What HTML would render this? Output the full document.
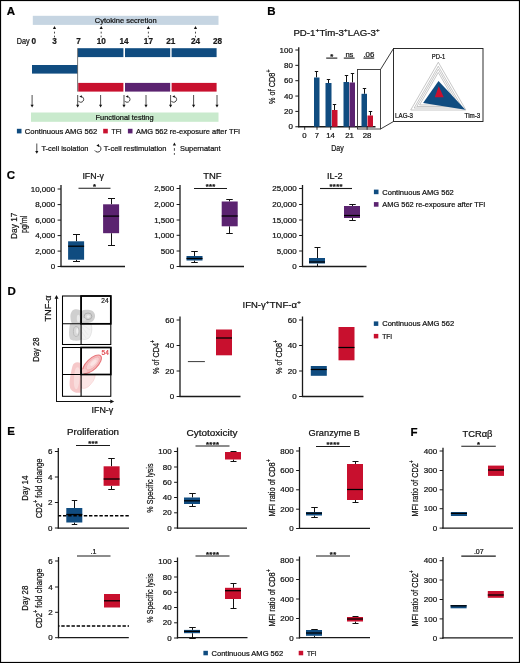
<!DOCTYPE html>
<html><head><meta charset="utf-8"><style>
html,body{margin:0;padding:0;background:#fff;}
body{width:520px;height:663px;overflow:hidden;font-family:"Liberation Sans", sans-serif;}
svg{display:block;will-change:transform;}
text{stroke-width:0.22px;}
</style></head><body>
<svg width="520" height="663" viewBox="0 0 520 663" font-family='"Liberation Sans", sans-serif'>
<rect x="0" y="0" width="520" height="663" fill="#fff" />
<text x="6.8" y="15" font-size="11.5" text-anchor="start" fill="#000" stroke="#000" font-weight="bold" >A</text>
<rect x="32.8" y="15.8" width="185.7" height="9.1" fill="#c6d5e2" />
<text x="94.8" y="22.8" font-size="7.7" text-anchor="start" fill="#111" stroke="#111" textLength="61.9" lengthAdjust="spacingAndGlyphs" >Cytokine secretion</text>
<path d="M52.9,29.0 L54.5,26.1 L56.1,29.0 Z" fill="#111"/>
<line x1="54.5" y1="31.7" x2="54.5" y2="33.5" stroke="#333" stroke-width="0.9" />
<line x1="54.5" y1="35.7" x2="54.5" y2="37.3" stroke="#333" stroke-width="0.9" />
<path d="M99.60000000000001,29.0 L101.2,26.1 L102.8,29.0 Z" fill="#111"/>
<line x1="101.2" y1="31.7" x2="101.2" y2="33.5" stroke="#333" stroke-width="0.9" />
<line x1="101.2" y1="35.7" x2="101.2" y2="37.3" stroke="#333" stroke-width="0.9" />
<path d="M146.8,29.0 L148.4,26.1 L150.0,29.0 Z" fill="#111"/>
<line x1="148.4" y1="31.7" x2="148.4" y2="33.5" stroke="#333" stroke-width="0.9" />
<line x1="148.4" y1="35.7" x2="148.4" y2="37.3" stroke="#333" stroke-width="0.9" />
<path d="M193.9,29.0 L195.5,26.1 L197.1,29.0 Z" fill="#111"/>
<line x1="195.5" y1="31.7" x2="195.5" y2="33.5" stroke="#333" stroke-width="0.9" />
<line x1="195.5" y1="35.7" x2="195.5" y2="37.3" stroke="#333" stroke-width="0.9" />
<text x="16.8" y="44.3" font-size="8.4" text-anchor="start" fill="#111" stroke="#111" textLength="12.9" lengthAdjust="spacingAndGlyphs" >Day</text>
<text x="33.8" y="44.3" font-size="8.2" text-anchor="middle" fill="#1a1a1a" stroke="#1a1a1a" font-weight="bold" >0</text>
<text x="54.5" y="44.3" font-size="8.2" text-anchor="middle" fill="#1a1a1a" stroke="#1a1a1a" font-weight="bold" >3</text>
<text x="78.5" y="44.3" font-size="8.2" text-anchor="middle" fill="#1a1a1a" stroke="#1a1a1a" font-weight="bold" >7</text>
<text x="101.2" y="44.3" font-size="8.2" text-anchor="middle" fill="#1a1a1a" stroke="#1a1a1a" font-weight="bold" >10</text>
<text x="124" y="44.3" font-size="8.2" text-anchor="middle" fill="#1a1a1a" stroke="#1a1a1a" font-weight="bold" >14</text>
<text x="148.4" y="44.3" font-size="8.2" text-anchor="middle" fill="#1a1a1a" stroke="#1a1a1a" font-weight="bold" >17</text>
<text x="170.8" y="44.3" font-size="8.2" text-anchor="middle" fill="#1a1a1a" stroke="#1a1a1a" font-weight="bold" >21</text>
<text x="195.5" y="44.3" font-size="8.2" text-anchor="middle" fill="#1a1a1a" stroke="#1a1a1a" font-weight="bold" >24</text>
<text x="217.6" y="44.3" font-size="8.2" text-anchor="middle" fill="#1a1a1a" stroke="#1a1a1a" font-weight="bold" >28</text>
<rect x="77.9" y="48.2" width="45.5" height="8.9" fill="#104c80" />
<rect x="125.0" y="48.2" width="45.19999999999999" height="8.9" fill="#104c80" />
<rect x="171.6" y="48.2" width="45.0" height="8.9" fill="#104c80" />
<rect x="32.0" y="65.0" width="45.6" height="8.6" fill="#104c80" />
<rect x="78.2" y="82.9" width="45.2" height="8.7" fill="#c8102e" />
<rect x="125.0" y="82.9" width="45.2" height="8.7" fill="#5b2370" />
<rect x="171.6" y="82.9" width="45.0" height="8.7" fill="#c8102e" />
<line x1="77.6" y1="48.2" x2="77.6" y2="91.6" stroke="#555" stroke-width="0.8" />
<line x1="32.1" y1="95.0" x2="32.1" y2="105.2" stroke="#222" stroke-width="0.8" />
<path d="M30.5,104.80000000000001 L32.1,107.4 L33.7,104.80000000000001 Z" fill="#111"/>
<line x1="77.7" y1="95.0" x2="77.7" y2="105.2" stroke="#222" stroke-width="0.8" />
<path d="M76.10000000000001,104.80000000000001 L77.7,107.4 L79.3,104.80000000000001 Z" fill="#111"/>
<line x1="100.6" y1="95.0" x2="100.6" y2="105.2" stroke="#222" stroke-width="0.8" />
<path d="M99.0,104.80000000000001 L100.6,107.4 L102.19999999999999,104.80000000000001 Z" fill="#111"/>
<line x1="124.0" y1="95.0" x2="124.0" y2="105.2" stroke="#222" stroke-width="0.8" />
<path d="M122.4,104.80000000000001 L124.0,107.4 L125.6,104.80000000000001 Z" fill="#111"/>
<line x1="146.0" y1="95.0" x2="146.0" y2="105.2" stroke="#222" stroke-width="0.8" />
<path d="M144.4,104.80000000000001 L146.0,107.4 L147.6,104.80000000000001 Z" fill="#111"/>
<line x1="170.6" y1="95.0" x2="170.6" y2="105.2" stroke="#222" stroke-width="0.8" />
<path d="M169.0,104.80000000000001 L170.6,107.4 L172.2,104.80000000000001 Z" fill="#111"/>
<line x1="193.6" y1="95.0" x2="193.6" y2="105.2" stroke="#222" stroke-width="0.8" />
<path d="M192.0,104.80000000000001 L193.6,107.4 L195.2,104.80000000000001 Z" fill="#111"/>
<line x1="217.0" y1="95.0" x2="217.0" y2="105.2" stroke="#222" stroke-width="0.8" />
<path d="M215.4,104.80000000000001 L217.0,107.4 L218.6,104.80000000000001 Z" fill="#111"/>
<path d="M78.29,100.85 A2.9,2.9 0 1 0 81.20,96.50" fill="none" stroke="#222" stroke-width="0.85"/>
<path d="M79.40,96.50 L81.80,95.20 L81.80,97.80 Z" fill="#111"/>
<path d="M124.59,100.85 A2.9,2.9 0 1 0 127.50,96.50" fill="none" stroke="#222" stroke-width="0.85"/>
<path d="M125.70,96.50 L128.10,95.20 L128.10,97.80 Z" fill="#111"/>
<path d="M171.19,100.85 A2.9,2.9 0 1 0 174.10,96.50" fill="none" stroke="#222" stroke-width="0.85"/>
<path d="M172.30,96.50 L174.70,95.20 L174.70,97.80 Z" fill="#111"/>
<rect x="31.0" y="112.5" width="187.5" height="9.3" fill="#c9eacd" />
<text x="95.5" y="119.7" font-size="7.6" text-anchor="start" fill="#111" stroke="#111" textLength="58.1" lengthAdjust="spacingAndGlyphs" >Functional testing</text>
<rect x="16.9" y="128.8" width="4.6" height="4.6" fill="#104c80" />
<text x="24.8" y="133.8" font-size="7.7" text-anchor="start" fill="#111" stroke="#111" textLength="72.4" lengthAdjust="spacingAndGlyphs" >Continuous AMG 562</text>
<rect x="103.2" y="128.8" width="4.6" height="4.6" fill="#c8102e" />
<text x="111.5" y="133.8" font-size="7.7" text-anchor="start" fill="#111" stroke="#111" textLength="10.2" lengthAdjust="spacingAndGlyphs" >TFI</text>
<rect x="127.9" y="128.8" width="4.6" height="4.6" fill="#5b2370" />
<text x="136.0" y="133.8" font-size="7.7" text-anchor="start" fill="#111" stroke="#111" textLength="104.2" lengthAdjust="spacingAndGlyphs" >AMG 562 re-exposure after TFI</text>
<line x1="36.8" y1="143.5" x2="36.8" y2="151.5" stroke="#222" stroke-width="0.8" />
<path d="M35.199999999999996,151.1 L36.8,153.7 L38.4,151.1 Z" fill="#111"/>
<text x="41.4" y="150.9" font-size="7.7" text-anchor="start" fill="#111" stroke="#111" textLength="47.1" lengthAdjust="spacingAndGlyphs" >T-cell isolation</text>
<path d="M94.8,150.4 A3.3,3.3 0 1 0 98.0,145.5" fill="none" stroke="#222" stroke-width="0.9"/>
<path d="M96.4,145.5 L99.0,144.1 L99.0,146.9 Z" fill="#111"/>
<text x="103.7" y="150.9" font-size="7.7" text-anchor="start" fill="#111" stroke="#111" textLength="62.8" lengthAdjust="spacingAndGlyphs" >T-cell restimulation</text>
<path d="M172.8,145.5 L174.4,142.6 L176.0,145.5 Z" fill="#111"/>
<line x1="174.4" y1="148.1" x2="174.4" y2="150.8" stroke="#333" stroke-width="0.9" />
<line x1="174.4" y1="153.1" x2="174.4" y2="154.8" stroke="#333" stroke-width="0.9" />
<text x="180.0" y="150.9" font-size="7.7" text-anchor="start" fill="#111" stroke="#111" textLength="40.5" lengthAdjust="spacingAndGlyphs" >Supernatant</text>
<text x="267.3" y="15" font-size="11.5" text-anchor="start" fill="#000" stroke="#000" font-weight="bold" >B</text>
<text x="293.4" y="35.9" font-size="8.4" fill="#111" stroke="#111" text-anchor="start"><tspan textLength="22.02" lengthAdjust="spacingAndGlyphs">PD-1</tspan><tspan font-size="6.05" dy="-3.53" textLength="4.06" lengthAdjust="spacingAndGlyphs">+</tspan><tspan dy="3.53" textLength="24.34" lengthAdjust="spacingAndGlyphs">Tim-3</tspan><tspan font-size="6.05" dy="-3.53" textLength="4.06" lengthAdjust="spacingAndGlyphs">+</tspan><tspan dy="3.53" textLength="27.94" lengthAdjust="spacingAndGlyphs">LAG-3</tspan><tspan font-size="6.05" dy="-3.53" textLength="4.06" lengthAdjust="spacingAndGlyphs">+</tspan></text>
<line x1="298.75" y1="47.2" x2="298.75" y2="127.25" stroke="#1a1a1a" stroke-width="1.3" />
<line x1="295.35" y1="50.0" x2="298.75" y2="50.0" stroke="#1a1a1a" stroke-width="1.0" />
<text x="292.95" y="52.6" font-size="7.7" text-anchor="end" fill="#111" stroke="#111" textLength="13.36" lengthAdjust="spacingAndGlyphs" >100</text>
<line x1="295.35" y1="65.35" x2="298.75" y2="65.35" stroke="#1a1a1a" stroke-width="1.0" />
<text x="292.95" y="67.94999999999999" font-size="7.7" text-anchor="end" fill="#111" stroke="#111" textLength="8.9" lengthAdjust="spacingAndGlyphs" >80</text>
<line x1="295.35" y1="80.7" x2="298.75" y2="80.7" stroke="#1a1a1a" stroke-width="1.0" />
<text x="292.95" y="83.3" font-size="7.7" text-anchor="end" fill="#111" stroke="#111" textLength="8.9" lengthAdjust="spacingAndGlyphs" >60</text>
<line x1="295.35" y1="96.05" x2="298.75" y2="96.05" stroke="#1a1a1a" stroke-width="1.0" />
<text x="292.95" y="98.64999999999999" font-size="7.7" text-anchor="end" fill="#111" stroke="#111" textLength="8.9" lengthAdjust="spacingAndGlyphs" >40</text>
<line x1="295.35" y1="111.4" x2="298.75" y2="111.4" stroke="#1a1a1a" stroke-width="1.0" />
<text x="292.95" y="114.0" font-size="7.7" text-anchor="end" fill="#111" stroke="#111" textLength="8.9" lengthAdjust="spacingAndGlyphs" >20</text>
<line x1="295.35" y1="126.75" x2="298.75" y2="126.75" stroke="#1a1a1a" stroke-width="1.0" />
<text x="292.95" y="129.35" font-size="7.7" text-anchor="end" fill="#111" stroke="#111" textLength="4.45" lengthAdjust="spacingAndGlyphs" >0</text>
<line x1="298.15" y1="126.75" x2="375.5" y2="126.75" stroke="#1a1a1a" stroke-width="1.3" />
<line x1="316.5" y1="71.5" x2="316.5" y2="77.5" stroke="#111" stroke-width="1.0" />
<line x1="314.8" y1="71.5" x2="318.2" y2="71.5" stroke="#111" stroke-width="1.0" />
<rect x="314.0" y="77.5" width="5.5" height="49.25" fill="#104c80" />
<line x1="328.5" y1="79.5" x2="328.5" y2="83.0" stroke="#111" stroke-width="1.0" />
<line x1="326.8" y1="79.5" x2="330.2" y2="79.5" stroke="#111" stroke-width="1.0" />
<rect x="325.5" y="83.0" width="6.0" height="43.75" fill="#104c80" />
<line x1="334.5" y1="104.5" x2="334.5" y2="110.0" stroke="#111" stroke-width="1.0" />
<line x1="332.8" y1="104.5" x2="336.2" y2="104.5" stroke="#111" stroke-width="1.0" />
<rect x="332.0" y="110.0" width="5.5" height="16.75" fill="#c8102e" />
<line x1="346.5" y1="75.5" x2="346.5" y2="82.0" stroke="#111" stroke-width="1.0" />
<line x1="344.8" y1="75.5" x2="348.2" y2="75.5" stroke="#111" stroke-width="1.0" />
<rect x="343.5" y="82.0" width="5.5" height="44.75" fill="#104c80" />
<line x1="352.5" y1="73.5" x2="352.5" y2="82.5" stroke="#111" stroke-width="1.0" />
<line x1="350.8" y1="73.5" x2="354.2" y2="73.5" stroke="#111" stroke-width="1.0" />
<rect x="349.5" y="82.5" width="5.5" height="44.25" fill="#5b2370" />
<line x1="364.5" y1="88.5" x2="364.5" y2="93.8" stroke="#111" stroke-width="1.0" />
<line x1="362.8" y1="88.5" x2="366.2" y2="88.5" stroke="#111" stroke-width="1.0" />
<rect x="361.5" y="93.8" width="5.5" height="32.95" fill="#104c80" />
<line x1="370.5" y1="111.5" x2="370.5" y2="115.5" stroke="#111" stroke-width="1.0" />
<line x1="368.8" y1="111.5" x2="372.2" y2="111.5" stroke="#111" stroke-width="1.0" />
<rect x="367.5" y="115.5" width="5.5" height="11.25" fill="#c8102e" />
<text x="304.5" y="138.3" font-size="7.8" text-anchor="middle" fill="#111" stroke="#111" >0</text>
<text x="317" y="138.3" font-size="7.8" text-anchor="middle" fill="#111" stroke="#111" >7</text>
<text x="330.5" y="138.3" font-size="7.8" text-anchor="middle" fill="#111" stroke="#111" >14</text>
<text x="349.5" y="138.3" font-size="7.8" text-anchor="middle" fill="#111" stroke="#111" >21</text>
<text x="367" y="138.3" font-size="7.8" text-anchor="middle" fill="#111" stroke="#111" >28</text>
<text x="337.4" y="150.6" font-size="9.2" text-anchor="middle" fill="#111" stroke="#111" textLength="12.5" lengthAdjust="spacingAndGlyphs" >Day</text>
<line x1="304.7" y1="126.75" x2="304.7" y2="129.8" stroke="#1a1a1a" stroke-width="0.9" />
<line x1="317.0" y1="126.75" x2="317.0" y2="129.8" stroke="#1a1a1a" stroke-width="0.9" />
<line x1="330.7" y1="126.75" x2="330.7" y2="129.8" stroke="#1a1a1a" stroke-width="0.9" />
<line x1="349.3" y1="126.75" x2="349.3" y2="129.8" stroke="#1a1a1a" stroke-width="0.9" />
<line x1="367.1" y1="126.75" x2="367.1" y2="129.8" stroke="#1a1a1a" stroke-width="0.9" />
<line x1="326.2" y1="58.1" x2="337.3" y2="58.1" stroke="#1a1a1a" stroke-width="1.1" />
<text x="331.70" y="59.40" font-size="7.6" text-anchor="middle" fill="#111" stroke="#111" font-weight="bold">*</text>
<line x1="343.8" y1="58.1" x2="354.6" y2="58.1" stroke="#1a1a1a" stroke-width="1.1" />
<text x="349.4" y="56.5" font-size="7.6" text-anchor="middle" fill="#111" stroke="#111" >ns</text>
<line x1="363.5" y1="58.1" x2="374.2" y2="58.1" stroke="#1a1a1a" stroke-width="1.1" />
<text x="368.9" y="56.5" font-size="7.9" text-anchor="middle" fill="#111" stroke="#111" >.06</text>
<rect x="357.5" y="69.5" width="23" height="59.5" fill="none" stroke="#333" stroke-width="0.9"/>
<line x1="380.5" y1="69.5" x2="393.5" y2="48.5" stroke="#222" stroke-width="0.9" />
<line x1="380.5" y1="129.0" x2="393.5" y2="121.5" stroke="#222" stroke-width="0.9" />
<rect x="393.5" y="48.5" width="89.5" height="73" fill="#fff" stroke="#222" stroke-width="0.95"/>
<polygon points="438.30,62.25 410.72,110.02 465.88,110.02" fill="none" stroke="#a8a8a8" stroke-width="0.65"/>
<polygon points="438.30,66.23 414.16,108.03 462.44,108.03" fill="none" stroke="#a8a8a8" stroke-width="0.65"/>
<polygon points="438.30,69.26 416.79,106.52 459.81,106.52" fill="none" stroke="#a8a8a8" stroke-width="0.65"/>
<polygon points="438.30,72.44 419.54,104.93 457.06,104.93" fill="none" stroke="#a8a8a8" stroke-width="0.65"/>
<polygon points="438.5,81 423.1,103.1 465.4,109.75" fill="#104c80"/>
<polygon points="438.75,86.25 434.75,97.25 443.75,97.25" fill="#c8102e"/>
<text x="438.5" y="58.8" font-size="6.9" text-anchor="middle" fill="#111" stroke="#111" textLength="13.4" lengthAdjust="spacingAndGlyphs" >PD-1</text>
<text x="395.1" y="118.1" font-size="6.9" text-anchor="start" fill="#111" stroke="#111" textLength="17.9" lengthAdjust="spacingAndGlyphs" >LAG-3</text>
<text x="480.3" y="118.1" font-size="6.9" text-anchor="end" fill="#111" stroke="#111" textLength="15.7" lengthAdjust="spacingAndGlyphs" >Tim-3</text>
<text x="6.8" y="179" font-size="11.5" text-anchor="start" fill="#000" stroke="#000" font-weight="bold" >C</text>
<text x="93.2" y="178.6" font-size="9.2" text-anchor="middle" fill="#111" stroke="#111" textLength="21.6" lengthAdjust="spacingAndGlyphs" >IFN-γ</text>
<line x1="61.0" y1="185" x2="61.0" y2="267.0" stroke="#1a1a1a" stroke-width="1.3" />
<line x1="57.6" y1="189" x2="61.0" y2="189" stroke="#1a1a1a" stroke-width="1.0" />
<text x="55.2" y="191.6" font-size="7.7" text-anchor="end" fill="#111" stroke="#111" textLength="24.49" lengthAdjust="spacingAndGlyphs" >10,000</text>
<line x1="57.6" y1="204.6" x2="61.0" y2="204.6" stroke="#1a1a1a" stroke-width="1.0" />
<text x="55.2" y="207.2" font-size="7.7" text-anchor="end" fill="#111" stroke="#111" textLength="20.04" lengthAdjust="spacingAndGlyphs" >8,000</text>
<line x1="57.6" y1="220.1" x2="61.0" y2="220.1" stroke="#1a1a1a" stroke-width="1.0" />
<text x="55.2" y="222.7" font-size="7.7" text-anchor="end" fill="#111" stroke="#111" textLength="20.04" lengthAdjust="spacingAndGlyphs" >6,000</text>
<line x1="57.6" y1="235.6" x2="61.0" y2="235.6" stroke="#1a1a1a" stroke-width="1.0" />
<text x="55.2" y="238.2" font-size="7.7" text-anchor="end" fill="#111" stroke="#111" textLength="20.04" lengthAdjust="spacingAndGlyphs" >4,000</text>
<line x1="57.6" y1="251.1" x2="61.0" y2="251.1" stroke="#1a1a1a" stroke-width="1.0" />
<text x="55.2" y="253.7" font-size="7.7" text-anchor="end" fill="#111" stroke="#111" textLength="20.04" lengthAdjust="spacingAndGlyphs" >2,000</text>
<line x1="57.6" y1="266.5" x2="61.0" y2="266.5" stroke="#1a1a1a" stroke-width="1.0" />
<text x="55.2" y="269.1" font-size="7.7" text-anchor="end" fill="#111" stroke="#111" textLength="4.45" lengthAdjust="spacingAndGlyphs" >0</text>
<line x1="60.4" y1="266.5" x2="125" y2="266.5" stroke="#1a1a1a" stroke-width="1.3" />
<line x1="78.5" y1="188.3" x2="110.5" y2="188.3" stroke="#1a1a1a" stroke-width="1.1" />
<text x="94.50" y="189.30" font-size="7.6" text-anchor="middle" fill="#111" stroke="#111" font-weight="bold">*</text>
<line x1="76.5" y1="234.5" x2="76.5" y2="241.3" stroke="#111" stroke-width="1.0" />
<line x1="73.0" y1="234.5" x2="80.0" y2="234.5" stroke="#111" stroke-width="1.0" />
<line x1="76.5" y1="259.7" x2="76.5" y2="261.5" stroke="#111" stroke-width="1.0" />
<line x1="73.0" y1="261.5" x2="80.0" y2="261.5" stroke="#111" stroke-width="1.0" />
<rect x="68.1" y="241.3" width="16.0" height="18.399999999999977" fill="#104c80" />
<line x1="68.1" y1="246.2" x2="84.1" y2="246.2" stroke="#000" stroke-width="1.25" />
<line x1="111.5" y1="198.5" x2="111.5" y2="204.3" stroke="#111" stroke-width="1.0" />
<line x1="108.0" y1="198.5" x2="115.0" y2="198.5" stroke="#111" stroke-width="1.0" />
<line x1="111.5" y1="233.2" x2="111.5" y2="245.5" stroke="#111" stroke-width="1.0" />
<line x1="108.0" y1="245.5" x2="115.0" y2="245.5" stroke="#111" stroke-width="1.0" />
<rect x="103.1" y="204.3" width="16.0" height="28.899999999999977" fill="#5b2370" />
<line x1="103.1" y1="216.1" x2="119.1" y2="216.1" stroke="#000" stroke-width="1.25" />
<text x="212.3" y="178.6" font-size="9.2" text-anchor="middle" fill="#111" stroke="#111" textLength="18.3" lengthAdjust="spacingAndGlyphs" >TNF</text>
<line x1="180" y1="185" x2="180" y2="267.0" stroke="#1a1a1a" stroke-width="1.3" />
<line x1="176.6" y1="188.5" x2="180" y2="188.5" stroke="#1a1a1a" stroke-width="1.0" />
<text x="174.2" y="191.1" font-size="7.7" text-anchor="end" fill="#111" stroke="#111" textLength="20.04" lengthAdjust="spacingAndGlyphs" >2,500</text>
<line x1="176.6" y1="204.5" x2="180" y2="204.5" stroke="#1a1a1a" stroke-width="1.0" />
<text x="174.2" y="207.1" font-size="7.7" text-anchor="end" fill="#111" stroke="#111" textLength="20.04" lengthAdjust="spacingAndGlyphs" >2,000</text>
<line x1="176.6" y1="220" x2="180" y2="220" stroke="#1a1a1a" stroke-width="1.0" />
<text x="174.2" y="222.6" font-size="7.7" text-anchor="end" fill="#111" stroke="#111" textLength="20.04" lengthAdjust="spacingAndGlyphs" >1,500</text>
<line x1="176.6" y1="235.3" x2="180" y2="235.3" stroke="#1a1a1a" stroke-width="1.0" />
<text x="174.2" y="237.9" font-size="7.7" text-anchor="end" fill="#111" stroke="#111" textLength="20.04" lengthAdjust="spacingAndGlyphs" >1,000</text>
<line x1="176.6" y1="251" x2="180" y2="251" stroke="#1a1a1a" stroke-width="1.0" />
<text x="174.2" y="253.6" font-size="7.7" text-anchor="end" fill="#111" stroke="#111" textLength="13.36" lengthAdjust="spacingAndGlyphs" >500</text>
<line x1="176.6" y1="266.5" x2="180" y2="266.5" stroke="#1a1a1a" stroke-width="1.0" />
<text x="174.2" y="269.1" font-size="7.7" text-anchor="end" fill="#111" stroke="#111" textLength="4.45" lengthAdjust="spacingAndGlyphs" >0</text>
<line x1="179.4" y1="266.5" x2="244" y2="266.5" stroke="#1a1a1a" stroke-width="1.3" />
<line x1="194" y1="188.5" x2="227" y2="188.5" stroke="#1a1a1a" stroke-width="1.1" />
<text x="207.20" y="189.30" font-size="7.6" text-anchor="middle" fill="#111" stroke="#111" font-weight="bold">*</text>
<text x="210.50" y="189.30" font-size="7.6" text-anchor="middle" fill="#111" stroke="#111" font-weight="bold">*</text>
<text x="213.80" y="189.30" font-size="7.6" text-anchor="middle" fill="#111" stroke="#111" font-weight="bold">*</text>
<line x1="194.5" y1="251.5" x2="194.5" y2="256" stroke="#111" stroke-width="1.0" />
<line x1="191.25" y1="251.5" x2="197.75" y2="251.5" stroke="#111" stroke-width="1.0" />
<line x1="194.5" y1="260.5" x2="194.5" y2="262.5" stroke="#111" stroke-width="1.0" />
<line x1="191.25" y1="262.5" x2="197.75" y2="262.5" stroke="#111" stroke-width="1.0" />
<rect x="186.5" y="256" width="16.0" height="4.5" fill="#104c80" />
<line x1="186.5" y1="258.5" x2="202.5" y2="258.5" stroke="#000" stroke-width="1.25" />
<line x1="229.5" y1="199.5" x2="229.5" y2="201.5" stroke="#111" stroke-width="1.0" />
<line x1="226.25" y1="199.5" x2="232.75" y2="199.5" stroke="#111" stroke-width="1.0" />
<line x1="229.5" y1="226.3" x2="229.5" y2="233.5" stroke="#111" stroke-width="1.0" />
<line x1="226.25" y1="233.5" x2="232.75" y2="233.5" stroke="#111" stroke-width="1.0" />
<rect x="221.7" y="201.5" width="16.0" height="24.80000000000001" fill="#5b2370" />
<line x1="221.7" y1="216" x2="237.7" y2="216" stroke="#000" stroke-width="1.25" />
<text x="334.8" y="178.6" font-size="9.2" text-anchor="middle" fill="#111" stroke="#111" textLength="15.8" lengthAdjust="spacingAndGlyphs" >IL-2</text>
<line x1="302.5" y1="185" x2="302.5" y2="267.0" stroke="#1a1a1a" stroke-width="1.3" />
<line x1="299.1" y1="188.5" x2="302.5" y2="188.5" stroke="#1a1a1a" stroke-width="1.0" />
<text x="296.7" y="191.1" font-size="7.7" text-anchor="end" fill="#111" stroke="#111" textLength="24.49" lengthAdjust="spacingAndGlyphs" >25,000</text>
<line x1="299.1" y1="204.5" x2="302.5" y2="204.5" stroke="#1a1a1a" stroke-width="1.0" />
<text x="296.7" y="207.1" font-size="7.7" text-anchor="end" fill="#111" stroke="#111" textLength="24.49" lengthAdjust="spacingAndGlyphs" >20,000</text>
<line x1="299.1" y1="220" x2="302.5" y2="220" stroke="#1a1a1a" stroke-width="1.0" />
<text x="296.7" y="222.6" font-size="7.7" text-anchor="end" fill="#111" stroke="#111" textLength="24.49" lengthAdjust="spacingAndGlyphs" >15,000</text>
<line x1="299.1" y1="235.5" x2="302.5" y2="235.5" stroke="#1a1a1a" stroke-width="1.0" />
<text x="296.7" y="238.1" font-size="7.7" text-anchor="end" fill="#111" stroke="#111" textLength="24.49" lengthAdjust="spacingAndGlyphs" >10,000</text>
<line x1="299.1" y1="251" x2="302.5" y2="251" stroke="#1a1a1a" stroke-width="1.0" />
<text x="296.7" y="253.6" font-size="7.7" text-anchor="end" fill="#111" stroke="#111" textLength="20.04" lengthAdjust="spacingAndGlyphs" >5,000</text>
<line x1="299.1" y1="266.5" x2="302.5" y2="266.5" stroke="#1a1a1a" stroke-width="1.0" />
<text x="296.7" y="269.1" font-size="7.7" text-anchor="end" fill="#111" stroke="#111" textLength="4.45" lengthAdjust="spacingAndGlyphs" >0</text>
<line x1="301.9" y1="266.5" x2="366.5" y2="266.5" stroke="#1a1a1a" stroke-width="1.3" />
<line x1="320" y1="188.5" x2="352" y2="188.5" stroke="#1a1a1a" stroke-width="1.1" />
<text x="331.05" y="189.30" font-size="7.6" text-anchor="middle" fill="#111" stroke="#111" font-weight="bold">*</text>
<text x="334.35" y="189.30" font-size="7.6" text-anchor="middle" fill="#111" stroke="#111" font-weight="bold">*</text>
<text x="337.65" y="189.30" font-size="7.6" text-anchor="middle" fill="#111" stroke="#111" font-weight="bold">*</text>
<text x="340.95" y="189.30" font-size="7.6" text-anchor="middle" fill="#111" stroke="#111" font-weight="bold">*</text>
<line x1="317.5" y1="247.5" x2="317.5" y2="258" stroke="#111" stroke-width="1.0" />
<line x1="314.5" y1="247.5" x2="320.5" y2="247.5" stroke="#111" stroke-width="1.0" />
<line x1="317.5" y1="263.5" x2="317.5" y2="266.5" stroke="#111" stroke-width="1.0" />
<line x1="314.5" y1="266.5" x2="320.5" y2="266.5" stroke="#111" stroke-width="1.0" />
<rect x="309" y="258" width="16" height="5.5" fill="#104c80" />
<line x1="309" y1="262" x2="325" y2="262" stroke="#000" stroke-width="1.25" />
<line x1="352.5" y1="204.5" x2="352.5" y2="206" stroke="#111" stroke-width="1.0" />
<line x1="349.25" y1="204.5" x2="355.75" y2="204.5" stroke="#111" stroke-width="1.0" />
<line x1="352.5" y1="218" x2="352.5" y2="220.5" stroke="#111" stroke-width="1.0" />
<line x1="349.25" y1="220.5" x2="355.75" y2="220.5" stroke="#111" stroke-width="1.0" />
<rect x="344" y="206" width="16" height="12" fill="#5b2370" />
<line x1="344" y1="215.5" x2="360" y2="215.5" stroke="#000" stroke-width="1.25" />
<rect x="373.9" y="189.6" width="4.6" height="4.6" fill="#104c80" />
<text x="382.3" y="194.6" font-size="7.9" text-anchor="start" fill="#111" stroke="#111" textLength="71.5" lengthAdjust="spacingAndGlyphs" >Continuous AMG 562</text>
<rect x="373.9" y="202.1" width="4.6" height="4.6" fill="#5b2370" />
<text x="382.3" y="207.2" font-size="7.9" text-anchor="start" fill="#111" stroke="#111" textLength="103.1" lengthAdjust="spacingAndGlyphs" >AMG 562 re-exposure after TFI</text>
<text x="7.4" y="294.9" font-size="11.5" text-anchor="start" fill="#000" stroke="#000" font-weight="bold" >D</text>
<defs><filter id="bl" x="-20%" y="-20%" width="140%" height="140%"><feGaussianBlur stdDeviation="0.9"/></filter><filter id="bl2" x="-20%" y="-20%" width="140%" height="140%"><feGaussianBlur stdDeviation="0.5"/></filter></defs>
<g filter="url(#bl2)"><path d="M70.5,318 C70,313 72,309.5 75.5,309.2 C78,309 80,310 81.5,311 C83,310 86,309.6 89.5,310 C93.5,310.6 95.5,313.5 95,317 C94.5,320.5 92,322.5 88,323 L81,323.6 L72,323.6 C71,322 70.6,320 70.5,318 Z" fill="#cfcfcf"/><path d="M70,324 L81,324 L81,340 C78,341 73,341 70.5,339.5 C68.5,337 68.8,330 70,324 Z" fill="#d2d2d2"/><path d="M81.5,324 L91,324 C92.5,328 92,334 89,338 C86.5,340 83,339.5 81.5,339 Z" fill="#f1f1f1" stroke="#d2d2d2" stroke-width="0.5"/><path d="M82,327 L88,335 M83,325 L90,330 M82,332 L86,338" stroke="#dcdcdc" stroke-width="0.4" fill="none"/><ellipse cx="78.4" cy="318.5" rx="1.6" ry="3.8" fill="#e9e9e9"/><ellipse cx="88" cy="316.3" rx="3.8" ry="3.3" fill="#d6d6d6" stroke="#a9a9a9" stroke-width="0.9"/><ellipse cx="88.3" cy="316.6" rx="1.5" ry="1.3" fill="#eeeeee"/><ellipse cx="76.2" cy="331.5" rx="2.8" ry="5" fill="#d8d8d8" stroke="#b0b0b0" stroke-width="0.7"/><ellipse cx="77.3" cy="331" rx="1.1" ry="3" fill="#f0f0f0"/><ellipse cx="84" cy="319.5" rx="2" ry="1.6" fill="#dcdcdc"/></g>
<g filter="url(#bl2)"><path d="M72.5,366 C73.5,362.5 77,361.5 80.5,363 L81,374 L81,392.5 C77.5,393.5 73,392.5 70.5,389 C68.8,385 69.5,378 72.5,366 Z" fill="#f6c8c9"/><path d="M81.5,374.5 L95,374.5 C95.5,378 93,382 90,385 C87.5,388 84,389 81.5,388 Z" fill="#fbe6e6" stroke="#f4c4c5" stroke-width="0.5"/><path d="M76,368 C78,366 80,368 80,372 C80,378 79,386 77,389 C74.5,390 73.5,385 74,378 C74.3,373 75,369.5 76,368 Z" fill="#f9dcdc"/><g transform="rotate(-44 92 364.2)"><ellipse cx="92" cy="364.2" rx="12.0" ry="5.4" fill="#f5bcbe" stroke="#e8797e" stroke-width="1.1"/><ellipse cx="93" cy="364.2" rx="8.5" ry="3.6" fill="#f8d0d1" stroke="#f0a4a7" stroke-width="0.6"/><ellipse cx="94" cy="364.2" rx="4" ry="1.8" fill="#fbe4e4"/></g><ellipse cx="84" cy="371" rx="3" ry="2" fill="#f6c9ca"/></g>
<rect x="62.5" y="296.0" width="48.3" height="48.5" fill="none" stroke="#000" stroke-width="1.05"/>
<line x1="81.1" y1="296.0" x2="81.1" y2="344.5" stroke="#000" stroke-width="1.1" />
<line x1="62.5" y1="323.8" x2="110.8" y2="323.8" stroke="#000" stroke-width="1.1" />
<rect x="81.1" y="296.0" width="29.7" height="27.80000000000001" fill="none" stroke="#000" stroke-width="1.7"/>
<rect x="62.5" y="347.5" width="48.3" height="48.80000000000001" fill="none" stroke="#000" stroke-width="1.05"/>
<line x1="81.1" y1="347.5" x2="81.1" y2="396.3" stroke="#000" stroke-width="1.1" />
<line x1="62.5" y1="374.5" x2="110.8" y2="374.5" stroke="#000" stroke-width="1.1" />
<rect x="81.1" y="347.5" width="29.7" height="27.0" fill="none" stroke="#000" stroke-width="1.7"/>
<text x="108.5" y="303.3" font-size="6.5" text-anchor="end" fill="#222" stroke="#222" stroke-width="0">24</text>
<text x="108.8" y="354.8" font-size="6.5" text-anchor="end" fill="#e0474f" stroke="#e0474f" stroke-width="0">54</text>
<line x1="56.5" y1="297.5" x2="56.5" y2="402.0" stroke="#111" stroke-width="1.0" />
<path d="M54.5,298.7 L56.5,294.9 L58.5,298.7 Z" fill="#111"/>
<line x1="56.0" y1="401.5" x2="111.5" y2="401.5" stroke="#111" stroke-width="1.0" />
<path d="M110.3,399.5 L114.2,401.5 L110.3,403.5 Z" fill="#111"/>
<text x="91.5" y="413.0" font-size="8.5" text-anchor="start" fill="#111" stroke="#111" textLength="21.7" lengthAdjust="spacingAndGlyphs" >IFN-γ</text>
<text x="242.5" y="307.5" font-size="8.6" fill="#111" stroke="#111" text-anchor="start"><tspan textLength="23.25" lengthAdjust="spacingAndGlyphs">IFN-γ</tspan><tspan font-size="6.19" dy="-3.61" textLength="4.00" lengthAdjust="spacingAndGlyphs">+</tspan><tspan dy="3.61" textLength="27.16" lengthAdjust="spacingAndGlyphs">TNF-α</tspan><tspan font-size="6.19" dy="-3.61" textLength="4.00" lengthAdjust="spacingAndGlyphs">+</tspan></text>
<line x1="180" y1="316.5" x2="180" y2="397.0" stroke="#1a1a1a" stroke-width="1.3" />
<line x1="176.6" y1="320" x2="180" y2="320" stroke="#1a1a1a" stroke-width="1.0" />
<text x="174.2" y="322.6" font-size="7.7" text-anchor="end" fill="#111" stroke="#111" textLength="8.9" lengthAdjust="spacingAndGlyphs" >60</text>
<line x1="176.6" y1="345.5" x2="180" y2="345.5" stroke="#1a1a1a" stroke-width="1.0" />
<text x="174.2" y="348.1" font-size="7.7" text-anchor="end" fill="#111" stroke="#111" textLength="8.9" lengthAdjust="spacingAndGlyphs" >40</text>
<line x1="176.6" y1="371" x2="180" y2="371" stroke="#1a1a1a" stroke-width="1.0" />
<text x="174.2" y="373.6" font-size="7.7" text-anchor="end" fill="#111" stroke="#111" textLength="8.9" lengthAdjust="spacingAndGlyphs" >20</text>
<line x1="176.6" y1="396.5" x2="180" y2="396.5" stroke="#1a1a1a" stroke-width="1.0" />
<text x="174.2" y="399.1" font-size="7.7" text-anchor="end" fill="#111" stroke="#111" textLength="4.45" lengthAdjust="spacingAndGlyphs" >0</text>
<line x1="179.4" y1="396.5" x2="240.5" y2="396.5" stroke="#1a1a1a" stroke-width="1.3" />
<line x1="187.9" y1="361.6" x2="204.9" y2="361.6" stroke="#3a3a3a" stroke-width="1.0" />
<rect x="216" y="329.5" width="16" height="25.80000000000001" fill="#c8102e" />
<line x1="216" y1="338" x2="232" y2="338" stroke="#000" stroke-width="1.25" />
<line x1="302.5" y1="316.5" x2="302.5" y2="397.0" stroke="#1a1a1a" stroke-width="1.3" />
<line x1="299.1" y1="320" x2="302.5" y2="320" stroke="#1a1a1a" stroke-width="1.0" />
<text x="296.7" y="322.6" font-size="7.7" text-anchor="end" fill="#111" stroke="#111" textLength="8.9" lengthAdjust="spacingAndGlyphs" >60</text>
<line x1="299.1" y1="345.5" x2="302.5" y2="345.5" stroke="#1a1a1a" stroke-width="1.0" />
<text x="296.7" y="348.1" font-size="7.7" text-anchor="end" fill="#111" stroke="#111" textLength="8.9" lengthAdjust="spacingAndGlyphs" >40</text>
<line x1="299.1" y1="371" x2="302.5" y2="371" stroke="#1a1a1a" stroke-width="1.0" />
<text x="296.7" y="373.6" font-size="7.7" text-anchor="end" fill="#111" stroke="#111" textLength="8.9" lengthAdjust="spacingAndGlyphs" >20</text>
<line x1="299.1" y1="396.5" x2="302.5" y2="396.5" stroke="#1a1a1a" stroke-width="1.0" />
<text x="296.7" y="399.1" font-size="7.7" text-anchor="end" fill="#111" stroke="#111" textLength="4.45" lengthAdjust="spacingAndGlyphs" >0</text>
<line x1="301.9" y1="396.5" x2="363.5" y2="396.5" stroke="#1a1a1a" stroke-width="1.3" />
<rect x="310.8" y="366" width="16.0" height="9.800000000000011" fill="#104c80" />
<line x1="310.8" y1="369.5" x2="326.8" y2="369.5" stroke="#000" stroke-width="1.25" />
<rect x="338.5" y="327" width="16.0" height="33.30000000000001" fill="#c8102e" />
<line x1="338.5" y1="347.5" x2="354.5" y2="347.5" stroke="#000" stroke-width="1.25" />
<rect x="373.8" y="321.4" width="4.5" height="4.5" fill="#104c80" />
<text x="382.2" y="326.3" font-size="7.9" text-anchor="start" fill="#111" stroke="#111" textLength="72" lengthAdjust="spacingAndGlyphs" >Continuous AMG 562</text>
<rect x="373.8" y="333.9" width="4.5" height="4.5" fill="#c8102e" />
<text x="382.2" y="338.8" font-size="7.9" text-anchor="start" fill="#111" stroke="#111" textLength="10" lengthAdjust="spacingAndGlyphs" >TFI</text>
<text x="7.3" y="434.6" font-size="11.5" text-anchor="start" fill="#000" stroke="#000" font-weight="bold" >E</text>
<text x="93" y="435.2" font-size="9" text-anchor="middle" fill="#111" stroke="#111" textLength="52" lengthAdjust="spacingAndGlyphs" >Proliferation</text>
<text x="212" y="435.5" font-size="9" text-anchor="middle" fill="#111" stroke="#111" textLength="51" lengthAdjust="spacingAndGlyphs" >Cytotoxicity</text>
<text x="334.3" y="436" font-size="9" text-anchor="middle" fill="#111" stroke="#111" textLength="51.5" lengthAdjust="spacingAndGlyphs" >Granzyme B</text>
<line x1="58.3" y1="448" x2="58.3" y2="528.5" stroke="#1a1a1a" stroke-width="1.3" />
<line x1="54.9" y1="451.5" x2="58.3" y2="451.5" stroke="#1a1a1a" stroke-width="1.0" />
<text x="52.5" y="454.1" font-size="7.7" text-anchor="end" fill="#111" stroke="#111" textLength="4.45" lengthAdjust="spacingAndGlyphs" >6</text>
<line x1="54.9" y1="477" x2="58.3" y2="477" stroke="#1a1a1a" stroke-width="1.0" />
<text x="52.5" y="479.6" font-size="7.7" text-anchor="end" fill="#111" stroke="#111" textLength="4.45" lengthAdjust="spacingAndGlyphs" >4</text>
<line x1="54.9" y1="502.5" x2="58.3" y2="502.5" stroke="#1a1a1a" stroke-width="1.0" />
<text x="52.5" y="505.1" font-size="7.7" text-anchor="end" fill="#111" stroke="#111" textLength="4.45" lengthAdjust="spacingAndGlyphs" >2</text>
<line x1="54.9" y1="528" x2="58.3" y2="528" stroke="#1a1a1a" stroke-width="1.0" />
<text x="52.5" y="530.6" font-size="7.7" text-anchor="end" fill="#111" stroke="#111" textLength="4.45" lengthAdjust="spacingAndGlyphs" >0</text>
<line x1="57.699999999999996" y1="528.2" x2="129" y2="528.2" stroke="#1a1a1a" stroke-width="1.3" />
<line x1="76" y1="445.5" x2="110" y2="445.5" stroke="#1a1a1a" stroke-width="1.1" />
<text x="89.70" y="446.30" font-size="7.6" text-anchor="middle" fill="#111" stroke="#111" font-weight="bold">*</text>
<text x="93.00" y="446.30" font-size="7.6" text-anchor="middle" fill="#111" stroke="#111" font-weight="bold">*</text>
<text x="96.30" y="446.30" font-size="7.6" text-anchor="middle" fill="#111" stroke="#111" font-weight="bold">*</text>
<line x1="74.5" y1="500.5" x2="74.5" y2="508" stroke="#111" stroke-width="1.0" />
<line x1="71.75" y1="500.5" x2="77.25" y2="500.5" stroke="#111" stroke-width="1.0" />
<line x1="74.5" y1="522.5" x2="74.5" y2="524.5" stroke="#111" stroke-width="1.0" />
<line x1="71.75" y1="524.5" x2="77.25" y2="524.5" stroke="#111" stroke-width="1.0" />
<rect x="66.3" y="508" width="16.0" height="14.5" fill="#104c80" />
<line x1="66.3" y1="514.5" x2="82.3" y2="514.5" stroke="#000" stroke-width="1.25" />
<line x1="111.5" y1="458.5" x2="111.5" y2="466.3" stroke="#111" stroke-width="1.0" />
<line x1="108.25" y1="458.5" x2="114.75" y2="458.5" stroke="#111" stroke-width="1.0" />
<line x1="111.5" y1="485.8" x2="111.5" y2="489.5" stroke="#111" stroke-width="1.0" />
<line x1="108.25" y1="489.5" x2="114.75" y2="489.5" stroke="#111" stroke-width="1.0" />
<rect x="103.6" y="466.3" width="16.0" height="19.5" fill="#c8102e" />
<line x1="103.6" y1="479" x2="119.6" y2="479" stroke="#000" stroke-width="1.25" />
<line x1="58.3" y1="515.8" x2="129.0" y2="515.8" stroke="#000" stroke-width="1.4" stroke-dasharray="3.4,1.8" stroke-dashoffset="0.5"/>
<line x1="177.5" y1="447.5" x2="177.5" y2="528.5" stroke="#1a1a1a" stroke-width="1.3" />
<line x1="174.1" y1="451.5" x2="177.5" y2="451.5" stroke="#1a1a1a" stroke-width="1.0" />
<text x="171.7" y="454.1" font-size="7.7" text-anchor="end" fill="#111" stroke="#111" textLength="13.36" lengthAdjust="spacingAndGlyphs" >100</text>
<line x1="174.1" y1="467" x2="177.5" y2="467" stroke="#1a1a1a" stroke-width="1.0" />
<text x="171.7" y="469.6" font-size="7.7" text-anchor="end" fill="#111" stroke="#111" textLength="8.9" lengthAdjust="spacingAndGlyphs" >80</text>
<line x1="174.1" y1="482.3" x2="177.5" y2="482.3" stroke="#1a1a1a" stroke-width="1.0" />
<text x="171.7" y="484.90000000000003" font-size="7.7" text-anchor="end" fill="#111" stroke="#111" textLength="8.9" lengthAdjust="spacingAndGlyphs" >60</text>
<line x1="174.1" y1="497.5" x2="177.5" y2="497.5" stroke="#1a1a1a" stroke-width="1.0" />
<text x="171.7" y="500.1" font-size="7.7" text-anchor="end" fill="#111" stroke="#111" textLength="8.9" lengthAdjust="spacingAndGlyphs" >40</text>
<line x1="174.1" y1="512.8" x2="177.5" y2="512.8" stroke="#1a1a1a" stroke-width="1.0" />
<text x="171.7" y="515.4" font-size="7.7" text-anchor="end" fill="#111" stroke="#111" textLength="8.9" lengthAdjust="spacingAndGlyphs" >20</text>
<line x1="174.1" y1="528" x2="177.5" y2="528" stroke="#1a1a1a" stroke-width="1.0" />
<text x="171.7" y="530.6" font-size="7.7" text-anchor="end" fill="#111" stroke="#111" textLength="4.45" lengthAdjust="spacingAndGlyphs" >0</text>
<line x1="176.9" y1="528.2" x2="247" y2="528.2" stroke="#1a1a1a" stroke-width="1.3" />
<line x1="195.5" y1="446" x2="229.5" y2="446" stroke="#1a1a1a" stroke-width="1.1" />
<text x="207.55" y="446.80" font-size="7.6" text-anchor="middle" fill="#111" stroke="#111" font-weight="bold">*</text>
<text x="210.85" y="446.80" font-size="7.6" text-anchor="middle" fill="#111" stroke="#111" font-weight="bold">*</text>
<text x="214.15" y="446.80" font-size="7.6" text-anchor="middle" fill="#111" stroke="#111" font-weight="bold">*</text>
<text x="217.45" y="446.80" font-size="7.6" text-anchor="middle" fill="#111" stroke="#111" font-weight="bold">*</text>
<line x1="192.5" y1="493.5" x2="192.5" y2="497.5" stroke="#111" stroke-width="1.0" />
<line x1="189.25" y1="493.5" x2="195.75" y2="493.5" stroke="#111" stroke-width="1.0" />
<line x1="192.5" y1="504" x2="192.5" y2="506.5" stroke="#111" stroke-width="1.0" />
<line x1="189.25" y1="506.5" x2="195.75" y2="506.5" stroke="#111" stroke-width="1.0" />
<rect x="184" y="497.5" width="16" height="6.5" fill="#104c80" />
<line x1="184" y1="500.8" x2="200" y2="500.8" stroke="#000" stroke-width="1.25" />
<line x1="233.5" y1="451.5" x2="233.5" y2="452" stroke="#111" stroke-width="1.0" />
<line x1="230.5" y1="451.5" x2="236.5" y2="451.5" stroke="#111" stroke-width="1.0" />
<line x1="233.5" y1="459.5" x2="233.5" y2="461.5" stroke="#111" stroke-width="1.0" />
<line x1="230.5" y1="461.5" x2="236.5" y2="461.5" stroke="#111" stroke-width="1.0" />
<rect x="225" y="452" width="16" height="7.5" fill="#c8102e" />
<line x1="299.5" y1="447" x2="299.5" y2="529.0" stroke="#1a1a1a" stroke-width="1.3" />
<line x1="296.1" y1="451" x2="299.5" y2="451" stroke="#1a1a1a" stroke-width="1.0" />
<text x="293.7" y="453.6" font-size="7.7" text-anchor="end" fill="#111" stroke="#111" textLength="13.36" lengthAdjust="spacingAndGlyphs" >800</text>
<line x1="296.1" y1="470.5" x2="299.5" y2="470.5" stroke="#1a1a1a" stroke-width="1.0" />
<text x="293.7" y="473.1" font-size="7.7" text-anchor="end" fill="#111" stroke="#111" textLength="13.36" lengthAdjust="spacingAndGlyphs" >600</text>
<line x1="296.1" y1="489.8" x2="299.5" y2="489.8" stroke="#1a1a1a" stroke-width="1.0" />
<text x="293.7" y="492.40000000000003" font-size="7.7" text-anchor="end" fill="#111" stroke="#111" textLength="13.36" lengthAdjust="spacingAndGlyphs" >400</text>
<line x1="296.1" y1="509.2" x2="299.5" y2="509.2" stroke="#1a1a1a" stroke-width="1.0" />
<text x="293.7" y="511.8" font-size="7.7" text-anchor="end" fill="#111" stroke="#111" textLength="13.36" lengthAdjust="spacingAndGlyphs" >200</text>
<line x1="296.1" y1="528.5" x2="299.5" y2="528.5" stroke="#1a1a1a" stroke-width="1.0" />
<text x="293.7" y="531.1" font-size="7.7" text-anchor="end" fill="#111" stroke="#111" textLength="4.45" lengthAdjust="spacingAndGlyphs" >0</text>
<line x1="298.9" y1="528.3" x2="370" y2="528.3" stroke="#1a1a1a" stroke-width="1.3" />
<line x1="316" y1="446.5" x2="350" y2="446.5" stroke="#1a1a1a" stroke-width="1.1" />
<text x="328.05" y="447.30" font-size="7.6" text-anchor="middle" fill="#111" stroke="#111" font-weight="bold">*</text>
<text x="331.35" y="447.30" font-size="7.6" text-anchor="middle" fill="#111" stroke="#111" font-weight="bold">*</text>
<text x="334.65" y="447.30" font-size="7.6" text-anchor="middle" fill="#111" stroke="#111" font-weight="bold">*</text>
<text x="337.95" y="447.30" font-size="7.6" text-anchor="middle" fill="#111" stroke="#111" font-weight="bold">*</text>
<line x1="314.5" y1="507.5" x2="314.5" y2="512" stroke="#111" stroke-width="1.0" />
<line x1="311.25" y1="507.5" x2="317.75" y2="507.5" stroke="#111" stroke-width="1.0" />
<line x1="314.5" y1="515.5" x2="314.5" y2="517.5" stroke="#111" stroke-width="1.0" />
<line x1="311.25" y1="517.5" x2="317.75" y2="517.5" stroke="#111" stroke-width="1.0" />
<rect x="306" y="512" width="16" height="3.5" fill="#104c80" />
<line x1="306" y1="513.2" x2="322" y2="513.2" stroke="#000" stroke-width="1.25" />
<line x1="355.5" y1="461.5" x2="355.5" y2="464" stroke="#111" stroke-width="1.0" />
<line x1="352.5" y1="461.5" x2="358.5" y2="461.5" stroke="#111" stroke-width="1.0" />
<line x1="355.5" y1="500" x2="355.5" y2="502.5" stroke="#111" stroke-width="1.0" />
<line x1="352.5" y1="502.5" x2="358.5" y2="502.5" stroke="#111" stroke-width="1.0" />
<rect x="347" y="464" width="16" height="36" fill="#c8102e" />
<line x1="347" y1="489.5" x2="363" y2="489.5" stroke="#000" stroke-width="1.25" />
<line x1="58.5" y1="557" x2="58.5" y2="638.2" stroke="#1a1a1a" stroke-width="1.3" />
<line x1="55.1" y1="561" x2="58.5" y2="561" stroke="#1a1a1a" stroke-width="1.0" />
<text x="52.7" y="563.6" font-size="7.7" text-anchor="end" fill="#111" stroke="#111" textLength="4.45" lengthAdjust="spacingAndGlyphs" >6</text>
<line x1="55.1" y1="587" x2="58.5" y2="587" stroke="#1a1a1a" stroke-width="1.0" />
<text x="52.7" y="589.6" font-size="7.7" text-anchor="end" fill="#111" stroke="#111" textLength="4.45" lengthAdjust="spacingAndGlyphs" >4</text>
<line x1="55.1" y1="612.3" x2="58.5" y2="612.3" stroke="#1a1a1a" stroke-width="1.0" />
<text x="52.7" y="614.9" font-size="7.7" text-anchor="end" fill="#111" stroke="#111" textLength="4.45" lengthAdjust="spacingAndGlyphs" >2</text>
<line x1="55.1" y1="637.7" x2="58.5" y2="637.7" stroke="#1a1a1a" stroke-width="1.0" />
<text x="52.7" y="640.3000000000001" font-size="7.7" text-anchor="end" fill="#111" stroke="#111" textLength="4.45" lengthAdjust="spacingAndGlyphs" >0</text>
<line x1="57.9" y1="637.7" x2="128.8" y2="637.7" stroke="#1a1a1a" stroke-width="1.3" />
<line x1="77" y1="556.0" x2="110.5" y2="556.0" stroke="#1a1a1a" stroke-width="1.1" />
<text x="93.5" y="553.8" font-size="7" text-anchor="middle" fill="#111" stroke="#111" >.1</text>
<rect x="104.0" y="594" width="16.0" height="13.5" fill="#c8102e" />
<line x1="104.0" y1="600.8" x2="120.0" y2="600.8" stroke="#000" stroke-width="1.25" />
<line x1="58.5" y1="626" x2="129.0" y2="626" stroke="#000" stroke-width="1.4" stroke-dasharray="3.4,1.7" stroke-dashoffset="2.3"/>
<line x1="177.5" y1="557.5" x2="177.5" y2="638.5" stroke="#1a1a1a" stroke-width="1.3" />
<line x1="174.1" y1="561.5" x2="177.5" y2="561.5" stroke="#1a1a1a" stroke-width="1.0" />
<text x="171.7" y="564.1" font-size="7.7" text-anchor="end" fill="#111" stroke="#111" textLength="13.36" lengthAdjust="spacingAndGlyphs" >100</text>
<line x1="174.1" y1="577" x2="177.5" y2="577" stroke="#1a1a1a" stroke-width="1.0" />
<text x="171.7" y="579.6" font-size="7.7" text-anchor="end" fill="#111" stroke="#111" textLength="8.9" lengthAdjust="spacingAndGlyphs" >80</text>
<line x1="174.1" y1="592.3" x2="177.5" y2="592.3" stroke="#1a1a1a" stroke-width="1.0" />
<text x="171.7" y="594.9" font-size="7.7" text-anchor="end" fill="#111" stroke="#111" textLength="8.9" lengthAdjust="spacingAndGlyphs" >60</text>
<line x1="174.1" y1="607.5" x2="177.5" y2="607.5" stroke="#1a1a1a" stroke-width="1.0" />
<text x="171.7" y="610.1" font-size="7.7" text-anchor="end" fill="#111" stroke="#111" textLength="8.9" lengthAdjust="spacingAndGlyphs" >40</text>
<line x1="174.1" y1="622.8" x2="177.5" y2="622.8" stroke="#1a1a1a" stroke-width="1.0" />
<text x="171.7" y="625.4" font-size="7.7" text-anchor="end" fill="#111" stroke="#111" textLength="8.9" lengthAdjust="spacingAndGlyphs" >20</text>
<line x1="174.1" y1="638" x2="177.5" y2="638" stroke="#1a1a1a" stroke-width="1.0" />
<text x="171.7" y="640.6" font-size="7.7" text-anchor="end" fill="#111" stroke="#111" textLength="4.45" lengthAdjust="spacingAndGlyphs" >0</text>
<line x1="176.9" y1="637.7" x2="247.5" y2="637.7" stroke="#1a1a1a" stroke-width="1.3" />
<line x1="195.5" y1="556.0" x2="229.5" y2="556.0" stroke="#1a1a1a" stroke-width="1.1" />
<text x="207.55" y="556.60" font-size="7.6" text-anchor="middle" fill="#111" stroke="#111" font-weight="bold">*</text>
<text x="210.85" y="556.60" font-size="7.6" text-anchor="middle" fill="#111" stroke="#111" font-weight="bold">*</text>
<text x="214.15" y="556.60" font-size="7.6" text-anchor="middle" fill="#111" stroke="#111" font-weight="bold">*</text>
<text x="217.45" y="556.60" font-size="7.6" text-anchor="middle" fill="#111" stroke="#111" font-weight="bold">*</text>
<line x1="192.5" y1="627.5" x2="192.5" y2="629.9" stroke="#111" stroke-width="1.0" />
<line x1="189.25" y1="627.5" x2="195.75" y2="627.5" stroke="#111" stroke-width="1.0" />
<line x1="192.5" y1="633.2" x2="192.5" y2="638.5" stroke="#111" stroke-width="1.0" />
<line x1="189.25" y1="638.5" x2="195.75" y2="638.5" stroke="#111" stroke-width="1.0" />
<rect x="184" y="629.9" width="16" height="3.300000000000068" fill="#104c80" />
<line x1="184" y1="631.4" x2="200" y2="631.4" stroke="#000" stroke-width="1.25" />
<line x1="233.5" y1="583.5" x2="233.5" y2="587.8" stroke="#111" stroke-width="1.0" />
<line x1="230.5" y1="583.5" x2="236.5" y2="583.5" stroke="#111" stroke-width="1.0" />
<line x1="233.5" y1="599.0" x2="233.5" y2="608.5" stroke="#111" stroke-width="1.0" />
<line x1="230.5" y1="608.5" x2="236.5" y2="608.5" stroke="#111" stroke-width="1.0" />
<rect x="225" y="587.8" width="16" height="11.200000000000045" fill="#c8102e" />
<line x1="225" y1="590.7" x2="241" y2="590.7" stroke="#000" stroke-width="1.25" />
<line x1="299.5" y1="556.5" x2="299.5" y2="638.5" stroke="#1a1a1a" stroke-width="1.3" />
<line x1="296.1" y1="560" x2="299.5" y2="560" stroke="#1a1a1a" stroke-width="1.0" />
<text x="293.7" y="562.6" font-size="7.7" text-anchor="end" fill="#111" stroke="#111" textLength="13.36" lengthAdjust="spacingAndGlyphs" >800</text>
<line x1="296.1" y1="579.5" x2="299.5" y2="579.5" stroke="#1a1a1a" stroke-width="1.0" />
<text x="293.7" y="582.1" font-size="7.7" text-anchor="end" fill="#111" stroke="#111" textLength="13.36" lengthAdjust="spacingAndGlyphs" >600</text>
<line x1="296.1" y1="599" x2="299.5" y2="599" stroke="#1a1a1a" stroke-width="1.0" />
<text x="293.7" y="601.6" font-size="7.7" text-anchor="end" fill="#111" stroke="#111" textLength="13.36" lengthAdjust="spacingAndGlyphs" >400</text>
<line x1="296.1" y1="618.5" x2="299.5" y2="618.5" stroke="#1a1a1a" stroke-width="1.0" />
<text x="293.7" y="621.1" font-size="7.7" text-anchor="end" fill="#111" stroke="#111" textLength="13.36" lengthAdjust="spacingAndGlyphs" >200</text>
<line x1="296.1" y1="638" x2="299.5" y2="638" stroke="#1a1a1a" stroke-width="1.0" />
<text x="293.7" y="640.6" font-size="7.7" text-anchor="end" fill="#111" stroke="#111" textLength="4.45" lengthAdjust="spacingAndGlyphs" >0</text>
<line x1="298.9" y1="637.7" x2="370" y2="637.7" stroke="#1a1a1a" stroke-width="1.3" />
<line x1="316" y1="556.0" x2="350" y2="556.0" stroke="#1a1a1a" stroke-width="1.1" />
<text x="331.35" y="556.60" font-size="7.6" text-anchor="middle" fill="#111" stroke="#111" font-weight="bold">*</text>
<text x="334.65" y="556.60" font-size="7.6" text-anchor="middle" fill="#111" stroke="#111" font-weight="bold">*</text>
<line x1="314.5" y1="629.5" x2="314.5" y2="630" stroke="#111" stroke-width="1.0" />
<line x1="311.25" y1="629.5" x2="317.75" y2="629.5" stroke="#111" stroke-width="1.0" />
<line x1="314.5" y1="635.8" x2="314.5" y2="637.5" stroke="#111" stroke-width="1.0" />
<line x1="311.25" y1="637.5" x2="317.75" y2="637.5" stroke="#111" stroke-width="1.0" />
<rect x="306" y="630" width="16" height="5.7999999999999545" fill="#104c80" />
<line x1="306" y1="633" x2="322" y2="633" stroke="#000" stroke-width="1.25" />
<line x1="355.5" y1="616.5" x2="355.5" y2="617" stroke="#111" stroke-width="1.0" />
<line x1="352.5" y1="616.5" x2="358.5" y2="616.5" stroke="#111" stroke-width="1.0" />
<line x1="355.5" y1="621.5" x2="355.5" y2="623.5" stroke="#111" stroke-width="1.0" />
<line x1="352.5" y1="623.5" x2="358.5" y2="623.5" stroke="#111" stroke-width="1.0" />
<rect x="347" y="617" width="16" height="4.5" fill="#c8102e" />
<line x1="347" y1="619" x2="363" y2="619" stroke="#000" stroke-width="1.25" />
<rect x="203.4" y="650.8" width="4.5" height="4.5" fill="#104c80" />
<text x="211.5" y="655.6" font-size="7.9" text-anchor="start" fill="#111" stroke="#111" textLength="71.7" lengthAdjust="spacingAndGlyphs" >Continuous AMG 562</text>
<rect x="298.7" y="650.8" width="4.5" height="4.5" fill="#c8102e" />
<text x="306.9" y="655.6" font-size="7.9" text-anchor="start" fill="#111" stroke="#111" textLength="9.6" lengthAdjust="spacingAndGlyphs" >TFI</text>
<text x="410.4" y="435.8" font-size="11.5" text-anchor="start" fill="#000" stroke="#000" font-weight="bold" >F</text>
<text x="477.5" y="436.5" font-size="9" text-anchor="middle" fill="#111" stroke="#111" textLength="30" lengthAdjust="spacingAndGlyphs" >TCRαβ</text>
<line x1="443" y1="447.8" x2="443" y2="528.6" stroke="#1a1a1a" stroke-width="1.3" />
<line x1="439.6" y1="451" x2="443" y2="451" stroke="#1a1a1a" stroke-width="1.0" />
<text x="437.2" y="453.6" font-size="7.7" text-anchor="end" fill="#111" stroke="#111" textLength="13.36" lengthAdjust="spacingAndGlyphs" >400</text>
<line x1="439.6" y1="470.5" x2="443" y2="470.5" stroke="#1a1a1a" stroke-width="1.0" />
<text x="437.2" y="473.1" font-size="7.7" text-anchor="end" fill="#111" stroke="#111" textLength="13.36" lengthAdjust="spacingAndGlyphs" >300</text>
<line x1="439.6" y1="489.8" x2="443" y2="489.8" stroke="#1a1a1a" stroke-width="1.0" />
<text x="437.2" y="492.40000000000003" font-size="7.7" text-anchor="end" fill="#111" stroke="#111" textLength="13.36" lengthAdjust="spacingAndGlyphs" >200</text>
<line x1="439.6" y1="508.7" x2="443" y2="508.7" stroke="#1a1a1a" stroke-width="1.0" />
<text x="437.2" y="511.3" font-size="7.7" text-anchor="end" fill="#111" stroke="#111" textLength="13.36" lengthAdjust="spacingAndGlyphs" >100</text>
<line x1="439.6" y1="528.1" x2="443" y2="528.1" stroke="#1a1a1a" stroke-width="1.0" />
<text x="437.2" y="530.7" font-size="7.7" text-anchor="end" fill="#111" stroke="#111" textLength="4.45" lengthAdjust="spacingAndGlyphs" >0</text>
<line x1="442.4" y1="528.2" x2="513" y2="528.2" stroke="#1a1a1a" stroke-width="1.3" />
<line x1="461.3" y1="446.2" x2="495.8" y2="446.2" stroke="#1a1a1a" stroke-width="1.1" />
<text x="478.50" y="447.00" font-size="7.6" text-anchor="middle" fill="#111" stroke="#111" font-weight="bold">*</text>
<rect x="450.9" y="512.0" width="16.100000000000023" height="4.0" fill="#104c80" />
<line x1="450.9" y1="513.4" x2="467.0" y2="513.4" stroke="#000" stroke-width="1.25" />
<rect x="488.0" y="465.6" width="16.0" height="10.299999999999955" fill="#c8102e" />
<line x1="488.0" y1="470" x2="504.0" y2="470" stroke="#000" stroke-width="1.25" />
<line x1="443" y1="557" x2="443" y2="638.7" stroke="#1a1a1a" stroke-width="1.3" />
<line x1="439.6" y1="560.7" x2="443" y2="560.7" stroke="#1a1a1a" stroke-width="1.0" />
<text x="437.2" y="563.3000000000001" font-size="7.7" text-anchor="end" fill="#111" stroke="#111" textLength="13.36" lengthAdjust="spacingAndGlyphs" >400</text>
<line x1="439.6" y1="580" x2="443" y2="580" stroke="#1a1a1a" stroke-width="1.0" />
<text x="437.2" y="582.6" font-size="7.7" text-anchor="end" fill="#111" stroke="#111" textLength="13.36" lengthAdjust="spacingAndGlyphs" >300</text>
<line x1="439.6" y1="599.5" x2="443" y2="599.5" stroke="#1a1a1a" stroke-width="1.0" />
<text x="437.2" y="602.1" font-size="7.7" text-anchor="end" fill="#111" stroke="#111" textLength="13.36" lengthAdjust="spacingAndGlyphs" >200</text>
<line x1="439.6" y1="618.9" x2="443" y2="618.9" stroke="#1a1a1a" stroke-width="1.0" />
<text x="437.2" y="621.5" font-size="7.7" text-anchor="end" fill="#111" stroke="#111" textLength="13.36" lengthAdjust="spacingAndGlyphs" >100</text>
<line x1="439.6" y1="638.2" x2="443" y2="638.2" stroke="#1a1a1a" stroke-width="1.0" />
<text x="437.2" y="640.8000000000001" font-size="7.7" text-anchor="end" fill="#111" stroke="#111" textLength="4.45" lengthAdjust="spacingAndGlyphs" >0</text>
<line x1="442.4" y1="637.8" x2="513" y2="637.8" stroke="#1a1a1a" stroke-width="1.3" />
<line x1="461.3" y1="556.1" x2="495.8" y2="556.1" stroke="#1a1a1a" stroke-width="1.1" />
<text x="478.8" y="553.5" font-size="7" text-anchor="middle" fill="#111" stroke="#111" >.07</text>
<rect x="450.6" y="605.0" width="16.0" height="3.2999999999999545" fill="#104c80" />
<line x1="450.6" y1="605.8" x2="466.6" y2="605.8" stroke="#000" stroke-width="1.25" />
<rect x="487.8" y="591.0" width="16.0" height="6.7999999999999545" fill="#c8102e" />
<line x1="487.8" y1="595.0" x2="503.8" y2="595.0" stroke="#000" stroke-width="1.25" />
<text font-size="9.6" fill="#111" stroke="#111" transform="translate(275.2 104.0) rotate(-90)"><tspan textLength="31.41" lengthAdjust="spacingAndGlyphs">% of CD8</tspan><tspan font-size="6.91" dy="-4.03" textLength="3.09" lengthAdjust="spacingAndGlyphs">+</tspan></text>
<text font-size="9.6" fill="#111" stroke="#111" transform="translate(17.1 238.9) rotate(-90)"><tspan textLength="26.30" lengthAdjust="spacingAndGlyphs">Day 17</tspan></text>
<text font-size="9.3" fill="#111" stroke="#111" transform="translate(27.4 233.0) rotate(-90)"><tspan textLength="17.20" lengthAdjust="spacingAndGlyphs">pg/ml</tspan></text>
<text font-size="8.8" fill="#111" stroke="#111" transform="translate(50.9 321.6) rotate(-90)"><tspan textLength="26.20" lengthAdjust="spacingAndGlyphs">TNF-α</tspan></text>
<text font-size="9.6" fill="#111" stroke="#111" transform="translate(38.9 361.8) rotate(-90)"><tspan textLength="24.20" lengthAdjust="spacingAndGlyphs">Day 28</tspan></text>
<text font-size="9.6" fill="#111" stroke="#111" transform="translate(159.3 373.9) rotate(-90)"><tspan textLength="30.96" lengthAdjust="spacingAndGlyphs">% of CD4</tspan><tspan font-size="6.91" dy="-4.03" textLength="3.04" lengthAdjust="spacingAndGlyphs">+</tspan></text>
<text font-size="9.6" fill="#111" stroke="#111" transform="translate(282.3 373.9) rotate(-90)"><tspan textLength="30.87" lengthAdjust="spacingAndGlyphs">% of CD8</tspan><tspan font-size="6.91" dy="-4.03" textLength="3.03" lengthAdjust="spacingAndGlyphs">+</tspan></text>
<text font-size="9.6" fill="#111" stroke="#111" transform="translate(28.0 500.7) rotate(-90)"><tspan textLength="25.10" lengthAdjust="spacingAndGlyphs">Day 14</tspan></text>
<text font-size="9.6" fill="#111" stroke="#111" transform="translate(41.8 518.2) rotate(-90)"><tspan textLength="15.20" lengthAdjust="spacingAndGlyphs">CD2</tspan><tspan font-size="6.91" dy="-4.03" textLength="3.20" lengthAdjust="spacingAndGlyphs">+</tspan><tspan dy="4.03" textLength="41.40" lengthAdjust="spacingAndGlyphs"> fold change</tspan></text>
<text font-size="9.6" fill="#111" stroke="#111" transform="translate(153.0 512.7) rotate(-90)"><tspan textLength="49.20" lengthAdjust="spacingAndGlyphs">% Specific lysis</tspan></text>
<text font-size="9.6" fill="#111" stroke="#111" transform="translate(275.3 516.6) rotate(-90)"><tspan textLength="54.29" lengthAdjust="spacingAndGlyphs">MFI ratio of CD8</tspan><tspan font-size="6.91" dy="-4.03" textLength="3.11" lengthAdjust="spacingAndGlyphs">+</tspan></text>
<text font-size="9.6" fill="#111" stroke="#111" transform="translate(418.3 516.6) rotate(-90)"><tspan textLength="53.34" lengthAdjust="spacingAndGlyphs">MFI ratio of CD2</tspan><tspan font-size="6.91" dy="-4.03" textLength="3.06" lengthAdjust="spacingAndGlyphs">+</tspan></text>
<text font-size="9.6" fill="#111" stroke="#111" transform="translate(28.0 610.7) rotate(-90)"><tspan textLength="25.10" lengthAdjust="spacingAndGlyphs">Day 28</tspan></text>
<text font-size="9.6" fill="#111" stroke="#111" transform="translate(41.8 628.2) rotate(-90)"><tspan textLength="15.20" lengthAdjust="spacingAndGlyphs">CD2</tspan><tspan font-size="6.91" dy="-4.03" textLength="3.20" lengthAdjust="spacingAndGlyphs">+</tspan><tspan dy="4.03" textLength="41.40" lengthAdjust="spacingAndGlyphs"> fold change</tspan></text>
<text font-size="9.6" fill="#111" stroke="#111" transform="translate(153.0 622.7) rotate(-90)"><tspan textLength="49.20" lengthAdjust="spacingAndGlyphs">% Specific lysis</tspan></text>
<text font-size="9.6" fill="#111" stroke="#111" transform="translate(275.3 626.6) rotate(-90)"><tspan textLength="54.29" lengthAdjust="spacingAndGlyphs">MFI ratio of CD8</tspan><tspan font-size="6.91" dy="-4.03" textLength="3.11" lengthAdjust="spacingAndGlyphs">+</tspan></text>
<text font-size="9.6" fill="#111" stroke="#111" transform="translate(418.3 626.6) rotate(-90)"><tspan textLength="53.34" lengthAdjust="spacingAndGlyphs">MFI ratio of CD2</tspan><tspan font-size="6.91" dy="-4.03" textLength="3.06" lengthAdjust="spacingAndGlyphs">+</tspan></text>
<rect x="0.5" y="0.5" width="519" height="662" fill="none" stroke="#000" stroke-width="1.2"/>
</svg>
</body></html>
